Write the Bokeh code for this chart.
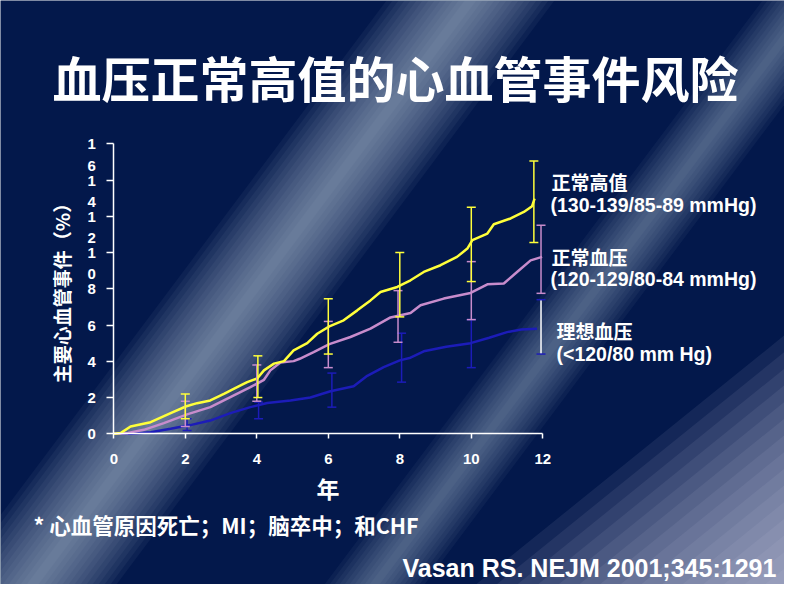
from bokeh.plotting import figure
from bokeh.models import Range1d, LinearAxis, FixedTicker
from bokeh.core.properties import value
from bokeh.embed import file_html
from bokeh.resources import INLINE

# ---------------- data ----------------
years_high = [0, 0.2, 0.47, 1.03, 1.59, 2.03, 2.33, 2.7, 3.08, 3.45, 3.73, 4.01, 4.2, 4.48,
              4.76, 5.03, 5.41, 5.69, 6.03, 6.43, 6.81, 7.18, 7.46, 7.93, 8.3, 8.67, 9.14,
              9.6, 9.89, 10.03, 10.45, 10.63, 11.1, 11.47, 11.7, 11.77]
risk_high = [0, 0.05, 0.4, 0.64, 1.14, 1.52, 1.69, 1.84, 2.2, 2.57, 2.85, 3.05, 3.5, 3.87,
             4.01, 4.6, 5.0, 5.52, 5.93, 6.26, 6.81, 7.36, 7.82, 8.1, 8.47, 8.93, 9.3,
             9.76, 10.22, 10.68, 11.05, 11.56, 11.88, 12.24, 12.56, 12.98]

years_normal = [0, 0.4, 0.84, 1.4, 2.05, 2.7, 3.26, 3.82, 4.2, 4.38, 4.66, 5.03, 5.2, 5.59,
                6.03, 6.62, 7.18, 7.74, 8.3, 8.58, 9.23, 9.98, 10.45, 10.91, 11.28, 11.66, 11.98]
risk_normal = [0, 0.05, 0.22, 0.59, 1.07, 1.47, 2.02, 2.57, 2.98, 3.5, 3.93, 4.01, 4.14, 4.51,
               4.95, 5.34, 5.8, 6.42, 6.66, 7.09, 7.46, 7.77, 8.25, 8.29, 8.93, 9.57, 9.76]

years_optimal = [0, 0.5, 1.03, 1.59, 2.14, 2.7, 3.26, 3.82, 4.29, 4.94, 5.5, 6.06, 6.71, 7.09,
                 7.55, 8.0, 8.3, 8.67, 9.3, 9.98, 10.5, 11.0, 11.4, 11.84]
risk_optimal = [0, 0.0, 0.09, 0.28, 0.48, 0.73, 1.14, 1.47, 1.7, 1.84, 2.0, 2.35, 2.62, 3.2,
                3.68, 4.05, 4.2, 4.55, 4.8, 5.0, 5.3, 5.61, 5.75, 5.8]

eb_t_high = [2.0, 4.03, 6.0, 8.0, 10.0, 11.75]
eb_up_high = [2.2, 4.3, 7.45, 10.0, 12.5, 15.05]
eb_lo_high = [0.83, 2.0, 4.4, 6.45, 8.4, 10.55]

eb_t_normal = [2.0, 4.0, 6.0, 7.95, 10.0, 11.95]
eb_up_normal = [1.8, 3.8, 6.2, 7.9, 9.5, 11.5]
eb_lo_normal = [0.4, 1.8, 3.65, 5.05, 6.3, 7.75]

eb_t_optimal = [2.05, 4.05, 6.1, 8.05, 10.0, 11.95]
eb_up_optimal = [0.83, 1.75, 3.35, 5.55, 6.3, 7.4]
eb_lo_optimal = [0.18, 0.83, 1.47, 2.85, 3.65, 4.4]

x_ticks = [0, 2, 4, 6, 8, 10, 12]
y_ticks = [0, 2, 4, 6, 8, 10, 12, 14, 16]
y_tick_text = ["0", "2", "4", "6", "8", "\n1\n0", "\n1\n2", "\n1\n4", "\n1\n6"]

title_text = "血压正常高值的心血管事件风险"
y_label = "主要心血管事件（%）"
x_label = "年"
series_names = ["正常高值", "正常血压", "理想血压"]
series_ranges = ["(130-139/85-89 mmHg)", "(120-129/80-84 mmHg)", "(<120/80 mm Hg)"]
footnote = "* 心血管原因死亡；MI；脑卒中；和CHF"
citation = "Vasan RS. NEJM 2001;345:1291"

# ---------------- layout helpers ----------------
W, H = 784, 584
PX0, PX12 = 113.3, 542.3
PY0, PY16 = 433.3, 143.3
SX = (PX12 - PX0) / 12.0
SY = (PY0 - PY16) / 16.0


def dx(px):
    return (px - PX0) / SX


def dy(py):
    return (PY0 - py) / SY


BG = "#03184b"
YELLOW = "#ffff3a"
PINK = "#c88ccc"
BLUE = "#1c1cb8"
WHITE = "#ffffff"
CJK_NAME = "Noto Sans CJK SC"
LAT_NAME = "Liberation Sans"
CJK = value(CJK_NAME)
LAT = value(LAT_NAME)

p = figure(width=W, height=H, output_backend="svg", toolbar_location=None,
           x_range=Range1d(dx(0), dx(W)), y_range=Range1d(dy(H), dy(0)),
           x_axis_type=None, y_axis_type=None, min_border=0,
           background_fill_color=BG, border_fill_color=BG, outline_line_color=None)

# ---------------- background light streaks ----------------
def band(x_at_600, half_widths, alpha, color):
    y0, y1 = 700, -40
    xa = x_at_600 + (600 - y0) * 0.75
    xb = x_at_600 + (600 - y1) * 0.75
    for w in half_widths:
        p.patch([dx(xa - w), dx(xb - w), dx(xb + w), dx(xa + w)],
                [dy(y0), dy(y1), dy(y1), dy(y0)],
                fill_color=color, fill_alpha=alpha, line_color=None)


band(20, list(range(84, 4, -6)), 0.058, "#bcc8e2")
band(362, list(range(50, 4, -5)), 0.055, "#bcc8e2")

for c in range(755, 985, 13):
    x1 = (c - 0.78 * 620) / 0.63
    y2 = (c - 0.63 * 820) / 0.78
    p.patch([dx(x1), dx(820), dx(820)], [dy(620), dy(y2), dy(620)],
            fill_color="#cfd6e6", fill_alpha=0.085, line_color=None)

# ---------------- curves ----------------
p.line(years_optimal, risk_optimal, line_color=BLUE, line_width=2.5)
p.line(years_normal, risk_normal, line_color=PINK, line_width=2.5)
p.line(years_high, risk_high, line_color=YELLOW, line_width=2.5)


def error_bars(t, lo, up, line_colors, cap_colors):
    p.segment(x0=t, y0=lo, x1=t, y1=up, line_color=line_colors, line_width=1.5)
    p.scatter(t, up, marker="dash", size=9, line_color=cap_colors, line_width=1.5)
    p.scatter(t, lo, marker="dash", size=9, line_color=cap_colors, line_width=1.5)


error_bars(eb_t_optimal, eb_lo_optimal, eb_up_optimal,
           [BLUE] * 5 + [WHITE], [BLUE] * 6)
error_bars(eb_t_normal, eb_lo_normal, eb_up_normal, [PINK] * 6, [PINK] * 6)
error_bars(eb_t_high, eb_lo_high, eb_up_high, [YELLOW] * 6, [YELLOW] * 6)

# ---------------- axes ----------------
xaxis = LinearAxis(fixed_location=0, bounds=(0, 12), ticker=FixedTicker(ticks=x_ticks),
                   axis_label=x_label)
yaxis = LinearAxis(fixed_location=0, bounds=(0, 16), ticker=FixedTicker(ticks=y_ticks),
                   axis_label=y_label,
                   major_label_overrides={t: s for t, s in zip(y_ticks, y_tick_text)})
for ax in (xaxis, yaxis):
    ax.axis_line_color = WHITE
    ax.axis_line_width = 1.5
    ax.major_tick_line_color = WHITE
    ax.major_tick_line_width = 1.5
    ax.major_tick_in = 0
    ax.minor_tick_line_color = None
    ax.major_label_text_color = WHITE
    ax.major_label_text_font = LAT_NAME
    ax.major_label_text_font_style = "bold"
    ax.major_label_text_font_size = "15px"
    ax.axis_label_text_color = WHITE
    ax.axis_label_text_font = CJK_NAME
    ax.axis_label_text_font_style = "bold"

xaxis.major_tick_out = 5
xaxis.major_label_standoff = 15
xaxis.axis_label_text_font_size = "23px"
xaxis.axis_label_standoff = 4
yaxis.major_tick_out = 7
yaxis.major_label_standoff = 11
yaxis.major_label_text_line_height = 1.25
yaxis.axis_label_text_font_size = "19px"
yaxis.axis_label_standoff = 9
p.add_layout(xaxis, "below")
p.add_layout(yaxis, "left")

# ---------------- texts ----------------
p.text(x=[dx(395)], y=[dy(76)], text=[title_text], text_color=WHITE, text_font=CJK,
       text_font_style="bold", text_font_size="49px", text_align="center",
       text_baseline="middle")

p.text(x=[dx(551)] * 2 + [dx(556)], y=[dy(181), dy(256), dy(330)], text=series_names,
       text_color=WHITE, text_font=CJK, text_font_style="bold", text_font_size="19px",
       text_align="left", text_baseline="middle")
p.text(x=[dx(550)] * 2 + [dx(556)], y=[dy(204), dy(278), dy(353)], text=series_ranges,
       text_color=WHITE, text_font=LAT, text_font_style="bold", text_font_size="19.5px",
       text_align="left", text_baseline="middle")

p.text(x=[dx(33)], y=[dy(524)], text=[footnote], text_color=WHITE, text_font=CJK,
       text_font_style="bold", text_font_size="21.5px", text_align="left",
       text_baseline="middle")
p.text(x=[dx(402)], y=[dy(567)], text=[citation], text_color=WHITE,
       text_font=LAT, text_font_style="bold",
       text_font_size="25px", text_align="left", text_baseline="middle")

open("out.html", "w").write(file_html(p, INLINE))
